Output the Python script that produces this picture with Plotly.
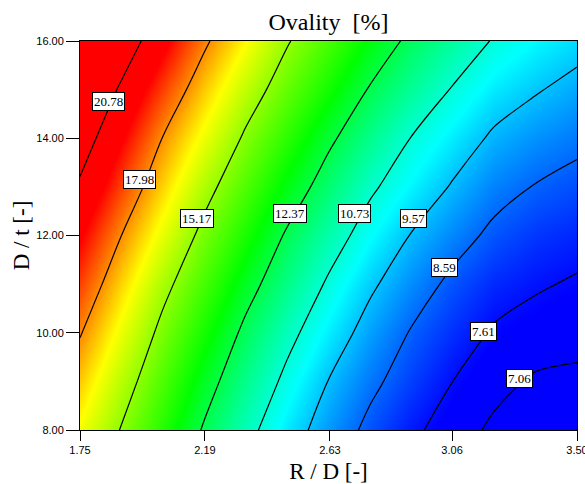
import plotly.graph_objects as go

# ---- data ----
rd_values = [1.750, 1.896, 2.042, 2.188, 2.333, 2.479, 2.625,
             2.771, 2.917, 3.063, 3.208, 3.354, 3.500]          # R / D [-]
dt_values = [8, 9, 10, 11, 12, 13, 14, 15, 16]                   # D / t [-]

ovality = [  # rows follow dt_values, columns follow rd_values  (%)
    [16.56, 15.10, 13.65, 12.25, 11.05, 10.02, 9.14, 8.38, 7.75, 7.30, 6.96, 6.86, 6.74],
    [17.30, 15.74, 14.24, 12.82, 11.58, 10.50, 9.55, 8.79, 8.18, 7.61, 7.22, 6.99, 6.96],
    [18.06, 16.44, 14.84, 13.47, 12.13, 11.02, 10.07, 9.23, 8.53, 7.99, 7.53, 7.34, 7.22],
    [18.88, 17.19, 15.52, 14.14, 12.79, 11.64, 10.60, 9.72, 9.02, 8.39, 7.93, 7.69, 7.53],
    [19.70, 17.98, 16.34, 14.82, 13.50, 12.24, 11.21, 10.29, 9.53, 8.94, 8.40, 8.07, 7.88],
    [20.60, 18.87, 17.17, 15.59, 14.24, 13.00, 11.89, 10.89, 10.16, 9.49, 8.90, 8.55, 8.32],
    [21.45, 19.72, 17.94, 16.47, 14.99, 13.78, 12.57, 11.59, 10.70, 10.05, 9.43, 9.07, 8.80],
    [22.35, 20.58, 18.87, 17.30, 15.81, 14.54, 13.41, 12.29, 11.46, 10.66, 10.03, 9.64, 9.30],
    [23.30, 21.61, 19.87, 18.18, 16.70, 15.27, 14.17, 13.07, 12.12, 11.38, 10.65, 10.20, 9.88],
]

contour_levels = [20.78, 17.98, 15.17, 12.37, 10.73, 9.57, 8.59, 7.61, 7.06]
label_x = [1.849, 1.961, 2.162, 2.489, 2.718, 2.923, 3.032, 3.169, 3.299]
label_y = [14.75, 13.16, 12.36, 12.46, 12.46, 12.36, 11.35, 10.03, 9.05]

x_ticks = [1.75, 2.19, 2.63, 3.06, 3.50]
x_ticktext = ["1.75", "2.19", "2.63", "3.06", "3.50"]
y_ticks = [8, 10, 12, 14, 16]
y_ticktext = ["8.00", "10.00", "12.00", "14.00", "16.00"]

# ---- figure ----
zmin, zmax = 7.5, 19.6
colorscale = [
    [0.0, "rgb(0,0,255)"],
    [0.227, "rgb(0,255,255)"],
    [0.471, "rgb(0,255,0)"],
    [0.76, "rgb(255,255,0)"],
    [1.0, "rgb(255,0,0)"],
]

fig = go.Figure()
fig.add_trace(go.Heatmap(
    x=rd_values, y=dt_values, z=ovality, zsmooth="best",
    colorscale=colorscale, zmin=zmin, zmax=zmax, showscale=False,
    hoverinfo="skip"))

for lev in contour_levels:
    fig.add_trace(go.Contour(
        x=rd_values, y=dt_values, z=ovality,
        autocontour=False,
        contours=dict(start=lev, end=lev, size=1, coloring="none"),
        line=dict(color="black", width=1.2, smoothing=1),
        showscale=False, hoverinfo="skip"))

for lev, lx, ly in zip(contour_levels, label_x, label_y):
    fig.add_annotation(
        x=lx, y=ly, text=f"{lev:.2f}", showarrow=False,
        font=dict(family="Liberation Serif", size=13, color="black"),
        bgcolor="white", bordercolor="black", borderwidth=1, borderpad=1)

axis_common = dict(showline=True, linecolor="black", linewidth=1, mirror=True,
                   ticks="outside", tickcolor="black", showgrid=False, zeroline=False,
                   ticklabeloverflow="allow", automargin=False,
                   tickfont=dict(family="Liberation Sans", size=11, color="black"))

fig.update_xaxes(range=[1.75, 3.50], tickvals=x_ticks, ticktext=x_ticktext, ticklen=10,
                 title=dict(text="R / D [-]", standoff=7,
                            font=dict(family="Liberation Serif", size=23, color="black")),
                 **axis_common)
fig.update_yaxes(range=[8, 16], tickvals=y_ticks, ticktext=y_ticktext, ticklen=13,
                 title=dict(text="D / t [-]", standoff=0,
                            font=dict(family="Liberation Serif", size=23, color="black")),
                 **axis_common)

fig.update_layout(
    width=585, height=484,
    margin=dict(l=80, r=8, t=41, b=54),
    paper_bgcolor="white", plot_bgcolor="white",
    showlegend=False,
    title=dict(text="Ovality\u00a0 [%]", xref="paper", x=0.5, xanchor="center",
               yref="container", y=1 - 22 / 484, yanchor="middle",
               font=dict(family="Liberation Serif", size=24, color="black")),
)

fig.write_html("out.html")
